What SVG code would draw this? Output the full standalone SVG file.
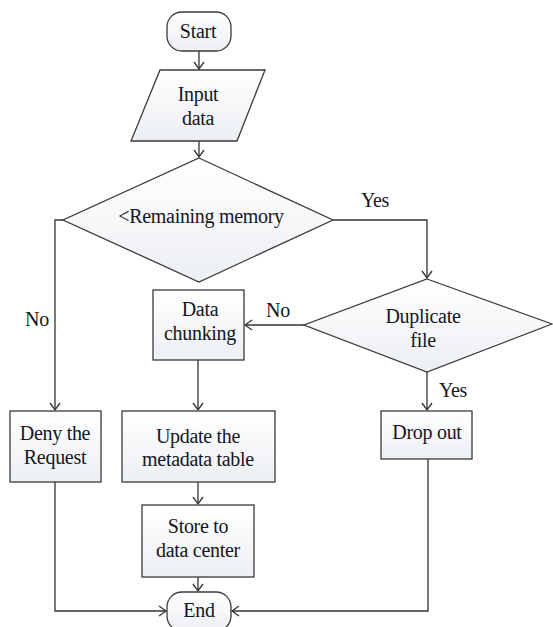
<svg xmlns="http://www.w3.org/2000/svg" width="553" height="627" viewBox="0 0 553 627">
  <defs>
    <linearGradient id="shade" x1="0" y1="0" x2="0" y2="1">
      <stop offset="0" stop-color="#ffffff"/>
      <stop offset="1" stop-color="#eceff3"/>
    </linearGradient>
    <marker id="arrow" markerWidth="10" markerHeight="12" refX="8" refY="6" orient="auto" markerUnits="userSpaceOnUse">
      <path d="M1,1 L8,6 L1,11" fill="none" stroke="#333" stroke-width="1.3"/>
    </marker>
  </defs>
  <style>
    .shape { fill: url(#shade); stroke: #3a3a3a; stroke-width: 1.3; }
    .lbl { font-family: "Liberation Serif", "Times New Roman", serif; font-size: 20px; letter-spacing: -0.3px; fill: #161622; text-anchor: middle; }
    .edge { fill: none; stroke: #333; stroke-width: 1.3; }
  </style>
  <rect width="553" height="627" fill="#ffffff"/>

  <!-- connectors -->
  <g id="connectors">
    <path class="edge" d="M199,51 V69" marker-end="url(#arrow)"/>
    <path class="edge" d="M199,141 V157" marker-end="url(#arrow)"/>
    <path class="edge" d="M63,220 H55 V410" marker-end="url(#arrow)"/>
    <path class="edge" d="M333,220 H427 V278" marker-end="url(#arrow)"/>
    <path class="edge" d="M304,325 H245" marker-end="url(#arrow)"/>
    <path class="edge" d="M427,372 V410" marker-end="url(#arrow)"/>
    <path class="edge" d="M198,360 V410" marker-end="url(#arrow)"/>
    <path class="edge" d="M198,482 V504" marker-end="url(#arrow)"/>
    <path class="edge" d="M198,577 V591" marker-end="url(#arrow)"/>
    <path class="edge" d="M55,482 V611 H166" marker-end="url(#arrow)"/>
    <path class="edge" d="M428,459 V611 H232" marker-end="url(#arrow)"/>
    <text class="lbl" x="375" y="207">Yes</text>
    <text class="lbl" x="37" y="326">No</text>
    <text class="lbl" x="278" y="317">No</text>
    <text class="lbl" x="453" y="397">Yes</text>
  </g>

  <g id="start">
    <rect class="shape" x="167" y="12" width="64" height="39" rx="15" ry="15"/>
    <text class="lbl" x="198" y="38">Start</text>
  </g>

  <g id="input">
    <polygon class="shape" points="160,70 265,70 237,141 131,141"/>
    <text class="lbl" x="198" y="101">Input</text>
    <text class="lbl" x="198" y="125">data</text>
  </g>

  <g id="memory-check">
    <polygon class="shape" points="199,158 333,220 199,282 63,220"/>
    <text class="lbl" x="201" y="223">&lt;Remaining memory</text>
  </g>

  <g id="duplicate-check">
    <polygon class="shape" points="427,279 552,324 427,372 304,325"/>
    <text class="lbl" x="423" y="323">Duplicate</text>
    <text class="lbl" x="423" y="347">file</text>
  </g>

  <g id="chunking">
    <rect class="shape" x="153" y="290" width="91" height="70"/>
    <text class="lbl" x="200" y="316">Data</text>
    <text class="lbl" x="200" y="340">chunking</text>
  </g>

  <g id="deny">
    <rect class="shape" x="10" y="411" width="91" height="71"/>
    <text class="lbl" x="55" y="440">Deny the</text>
    <text class="lbl" x="55" y="464">Request</text>
  </g>

  <g id="update">
    <rect class="shape" x="122" y="411" width="153" height="71"/>
    <text class="lbl" x="198" y="443">Update the</text>
    <text class="lbl" x="198" y="466">metadata table</text>
  </g>

  <g id="drop">
    <rect class="shape" x="381" y="411" width="91" height="48"/>
    <text class="lbl" x="427" y="439">Drop out</text>
  </g>

  <g id="store">
    <rect class="shape" x="142" y="505" width="112" height="72"/>
    <text class="lbl" x="198" y="533">Store to</text>
    <text class="lbl" x="198" y="557">data center</text>
  </g>

  <g id="end">
    <rect class="shape" x="167" y="592" width="64" height="39" rx="15" ry="15"/>
    <text class="lbl" x="199" y="617">End</text>
  </g>
</svg>
